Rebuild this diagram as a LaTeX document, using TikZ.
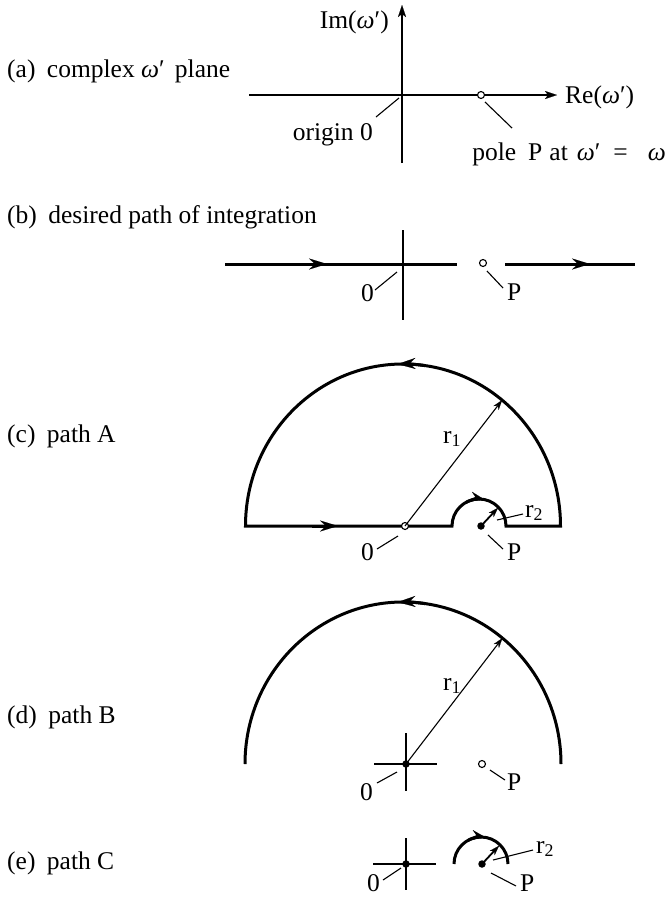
\documentclass[tikz,border=0pt]{standalone}
\usepackage{fontspec}
\setmainfont{Liberation Serif}
\usetikzlibrary{arrows.meta}
\newcommand{\omg}{\textit{ω}}
\tikzset{
  hair/.style={line width=1.1pt},
  boldpath/.style={line width=3pt},
  rline/.style={line width=1.8pt},
  lbl/.style={font=\fontsize{25.5}{28}\selectfont, inner sep=0pt},
  opendot/.style={circle, draw, line width=1.1pt, fill=white, inner sep=0pt, minimum size=7pt},
  fulldot/.style={circle, fill=black, inner sep=0pt, minimum size=7.5pt},
  bighead/.style={-{Stealth[length=18pt,width=11pt,inset=6pt,line width=0.1pt]}},
  smallhead/.style={-{Stealth[length=14pt,width=10pt,inset=5pt,line width=0.1pt]}},
  axhead/.style={-{Stealth[length=12pt,width=8pt,inset=3pt,line width=0.1pt]}},
  rhead/.style={-{Stealth[length=10pt,width=6.5pt,inset=3pt,line width=0.1pt]}},
}
\begin{document}
\begin{tikzpicture}[x=1pt,y=1pt]
\useasboundingbox (0,0) rectangle (670,-898);

% ---------------- (a)
\node[lbl,anchor=base west] (labA) at (7,-77.5) {(a)\hspace{0.45em}complex \omg′\hspace{0.15em} plane};
\coordinate (ImBot) at (402,-163);
\coordinate (ImTop) at (402,-5);
\coordinate (ReL) at (249,-95);
\coordinate (ReR) at (557,-95);
\draw[hair,axhead] (ImBot) -- (ImTop);
\draw[hair,axhead] (ReL) -- (ReR);
\node[opendot] (Pa) at (481,-95) {};
\node[lbl,anchor=base east] (imlab) at (389,-28.5) {Im(\omg′)};
\node[lbl,anchor=base west] (relab) at (565,-103.5) {Re(\omg′)};
\node[lbl,anchor=base east] (origA) at (373,-140) {origin 0};
\node[lbl,anchor=base east] (poleA) at (666,-160) {pole\hspace{12pt}P\hspace{7pt}at\hspace{9pt}\omg′\hspace{13pt}=\hspace{20pt}\omg};
\coordinate (oa1) at (376,-117); \coordinate (oa2) at (399,-98);
\draw[hair] (oa1) -- (oa2);
\coordinate (pa1) at (485,-102); \coordinate (pa2) at (512,-128);
\draw[hair] (pa1) -- (pa2);

% ---------------- (b)
\node[lbl,anchor=base west] (labB) at (7,-223) {(b)\hspace{0.45em}desired path of integration};
\coordinate (bvT) at (403,-230); \coordinate (bvB) at (403,-320);
\draw[hair] (bvT) -- (bvB);
\coordinate (b1L) at (225,-264); \coordinate (b1R) at (457,-264);
\coordinate (b2L) at (505,-264); \coordinate (b2R) at (635,-264);
\draw[boldpath] (b1L) -- (b1R);
\draw[boldpath] (b2L) -- (b2R);
\coordinate (bh1a) at (300,-264); \coordinate (bh1b) at (327,-264);
\coordinate (bh2a) at (563,-264); \coordinate (bh2b) at (590,-264);
\draw[boldpath,bighead] (bh1a) -- (bh1b);
\draw[boldpath,bighead] (bh2a) -- (bh2b);
\node[opendot] (Pb) at (483,-263) {};
\coordinate (pb1) at (487,-271); \coordinate (pb2) at (503,-288);
\draw[hair] (pb1) -- (pb2);
\node[lbl,anchor=base west] (Plb) at (507,-300) {P};
\coordinate (ob1) at (397,-272); \coordinate (ob2) at (375,-290);
\draw[hair] (ob1) -- (ob2);
\node[lbl,anchor=base east] (zb) at (374,-301) {0};

% ---------------- (c)
\node[lbl,anchor=base west] (labC) at (7,-442) {(c)\hspace{0.45em}path A};
\coordinate (cC) at (403,-526);
\coordinate (cL) at (245.5,-526);
\coordinate (cS1) at (452,-526);
\coordinate (cS2) at (506,-526);
\coordinate (cR) at (560.5,-526);
\draw[boldpath,line join=miter] (cL) -- (cS1) arc[start angle=180,end angle=0,radius=27]
   -- (cR) arc[start angle=0,end angle=180,x radius=157.5,y radius=162] -- cycle;
\coordinate (ch1a) at (312,-526); \coordinate (ch1b) at (338,-526);
\draw[boldpath,bighead] (ch1a) -- (ch1b);
\draw[boldpath,bighead] (cC) ++(82:157.5 and 162) arc[start angle=82,end angle=92,x radius=157.5,y radius=162];
\coordinate (cSC) at (479,-526);
\draw[boldpath,smallhead] (cSC) ++(118:27) arc[start angle=118,end angle=78,radius=27];
\node[opendot] (Oc) at (405,-526) {};
\path (cC) ++(51:157.5 and 162) coordinate (cR1tip);
\draw[hair,rhead] (Oc.center) -- (cR1tip);
\node[lbl,anchor=base west] (r1c) at (443,-443) {r\textsubscript{1}};
\node[fulldot] (Pc) at (481,-526) {};
\path (Pc.center) ++(47:25) coordinate (cR2tip);
\draw[rline,rhead] (Pc.center) -- (cR2tip);
\coordinate (cl1) at (497,-520); \coordinate (cl2) at (523,-514);
\draw[hair] (cl1) -- (cl2);
\node[lbl,anchor=base west] (r2c) at (525,-517) {r\textsubscript{2}};
\coordinate (cp1) at (488,-535); \coordinate (cp2) at (503,-549);
\draw[hair] (cp1) -- (cp2);
\node[lbl,anchor=base west] (Plc) at (507,-560) {P};
\coordinate (co1) at (377,-549); \coordinate (co2) at (398,-536);
\draw[hair] (co1) -- (co2);
\node[lbl,anchor=base east] (zc) at (374,-560) {0};

% ---------------- (d)
\node[lbl,anchor=base west] (labD) at (7,-723) {(d)\hspace{0.45em}path B};
\coordinate (dC) at (403,-764);
\coordinate (dR) at (561,-764);
\draw[boldpath] (dR) arc[start angle=0,end angle=180,x radius=158,y radius=162];
\draw[boldpath,bighead] (dC) ++(82:158 and 162) arc[start angle=82,end angle=92,x radius=158,y radius=162];
\coordinate (dxL) at (374,-764); \coordinate (dxR) at (437,-764);
\coordinate (dyT) at (406,-733); \coordinate (dyB) at (406,-791);
\draw[hair] (dxL) -- (dxR);
\draw[hair] (dyT) -- (dyB);
\node[fulldot] (Od) at (406,-764) {};
\path (dC) ++(51:158 and 162) coordinate (dR1tip);
\draw[hair,rhead] (Od.center) -- (dR1tip);
\node[lbl,anchor=base west] (r1d) at (443,-690) {r\textsubscript{1}};
\node[opendot] (Pd) at (482,-764) {};
\coordinate (dp1) at (490,-770); \coordinate (dp2) at (505,-780);
\draw[hair] (dp1) -- (dp2);
\node[lbl,anchor=base west] (Pld) at (507,-790) {P};
\coordinate (do1) at (377,-783); \coordinate (do2) at (397,-772);
\draw[hair] (do1) -- (do2);
\node[lbl,anchor=base east] (zd) at (373,-800) {0};

% ---------------- (e)
\node[lbl,anchor=base west] (labE) at (7,-869) {(e)\hspace{0.45em}path C};
\coordinate (exL) at (373,-864); \coordinate (exR) at (436,-864);
\coordinate (eyT) at (406,-838); \coordinate (eyB) at (406,-890);
\draw[hair] (exL) -- (exR);
\draw[hair] (eyT) -- (eyB);
\node[fulldot] (Oe) at (406,-864) {};
\coordinate (eo1) at (383,-880); \coordinate (eo2) at (401,-868);
\draw[hair] (eo1) -- (eo2);
\node[lbl,anchor=base east] (ze) at (380,-891) {0};
\coordinate (eC) at (481,-864);
\coordinate (eL) at (454,-864);
\draw[boldpath] (eL) arc[start angle=180,end angle=0,radius=27];
\draw[boldpath,smallhead] (eC) ++(118:27) arc[start angle=118,end angle=80,radius=27];
\node[fulldot] (Pe) at (482,-864) {};
\path (Pe.center) ++(47:25) coordinate (eR2tip);
\draw[rline,rhead] (Pe.center) -- (eR2tip);
\coordinate (el1) at (493,-860); \coordinate (el2) at (533,-850);
\draw[hair] (el1) -- (el2);
\node[lbl,anchor=base west] (r2e) at (536,-853) {r\textsubscript{2}};
\coordinate (ep1) at (491,-873); \coordinate (ep2) at (516,-886);
\draw[hair] (ep1) -- (ep2);
\node[lbl,anchor=base west] (Ple) at (520,-891) {P};
\end{tikzpicture}
\end{document}
